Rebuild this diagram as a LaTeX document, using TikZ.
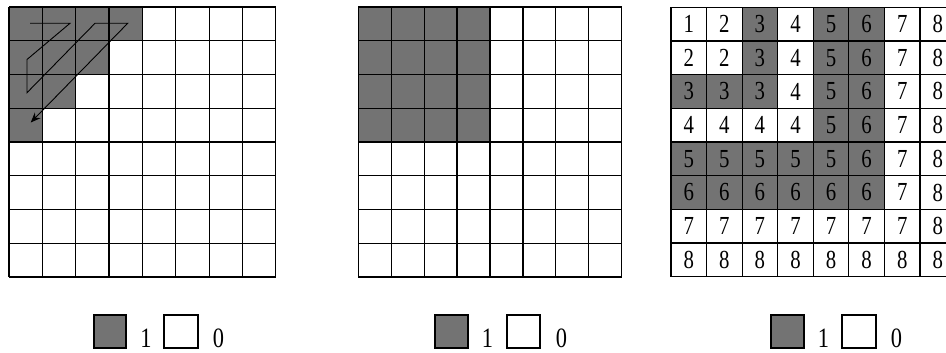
\documentclass[tikz,border=0pt]{standalone}
\usepackage{fontspec}
\setmainfont{Liberation Serif}
\usetikzlibrary{arrows.meta}
\definecolor{cellgray}{RGB}{115,115,115}
\tikzset{
  gridline/.style={line width=1.2pt, draw=black},
  shaded/.style={fill=cellgray},
  num/.style={font=\fontsize{26}{26}\selectfont, text=black, inner sep=0pt, anchor=center},
  legtext/.style={font=\fontsize{28}{28}\selectfont, text=black, inner sep=0pt, anchor=base},
  legbox/.style={draw=black, line width=1.3pt},
  scanpath/.style={line width=0.9pt, -{Stealth[length=10pt,width=8pt]}},
}
\begin{document}
\begin{tikzpicture}[x=1pt,y=-1pt]
\useasboundingbox (0,0) rectangle (946,353);
\clip (0,0) rectangle (946,353);
\fill[white] (0,0) rectangle (946,353);

% ---------- left grid ----------
\def\lx{9}\def\ly{7}\def\lw{33.35}\def\lh{33.75}
\foreach \r/\n in {0/4,1/3,2/2,3/1}
  \fill[shaded] (\lx,\ly+\r*\lh) rectangle (\lx+\n*\lw,\ly+\r*\lh+\lh);
\foreach \i in {0,...,8} {
  \draw[gridline] (\lx+\i*\lw,\ly) -- (\lx+\i*\lw,\ly+8*\lh);
  \draw[gridline] (\lx,\ly+\i*\lh) -- (\lx+8*\lw,\ly+\i*\lh);
}
\coordinate (p0) at (30,23.3);
\coordinate (p1) at (70,23.3);
\coordinate (p2) at (27,59.5);
\coordinate (p3) at (27,92.7);
\coordinate (p4) at (95,23.3);
\coordinate (p5) at (127.7,23.3);
\coordinate (p6) at (30.7,122.5);
\draw[scanpath] (p0) -- (p1) -- (p2) -- (p3) -- (p4) -- (p5) -- (p6);

% ---------- middle grid ----------
\def\mx{358.3}\def\my{7}\def\mw{32.93}\def\mh{33.75}
\fill[shaded] (\mx,\my) rectangle (\mx+4*\mw,\my+4*\mh);
\foreach \i in {0,...,8} {
  \draw[gridline] (\mx+\i*\mw,\my) -- (\mx+\i*\mw,\my+8*\mh);
  \draw[gridline] (\mx,\my+\i*\mh) -- (\mx+8*\mw,\my+\i*\mh);
}

% ---------- right grid ----------
\def\rx{671}\def\ry{7.3}\def\rw{35.57}\def\rh{33.67}
\foreach \r in {0,...,7} {
  \foreach \c in {0,...,7} {
    \pgfmathtruncatemacro{\v}{max(\r,\c)+1}
    \ifnum\v=3 \fill[shaded] (\rx+\c*\rw,\ry+\r*\rh) rectangle +(\rw,\rh); \fi
    \ifnum\v=5 \fill[shaded] (\rx+\c*\rw,\ry+\r*\rh) rectangle +(\rw,\rh); \fi
    \ifnum\v=6 \fill[shaded] (\rx+\c*\rw,\ry+\r*\rh) rectangle +(\rw,\rh); \fi
    \node[num] (n-\r-\c) at (\rx+\c*\rw+0.5*\rw,\ry+\r*\rh+0.5*\rh) {\scalebox{0.8}[1]{\v}};
  }
}
\foreach \i in {0,...,8} {
  \draw[gridline] (\rx+\i*\rw,\ry) -- (\rx+\i*\rw,\ry+8*\rh);
  \draw[gridline] (\rx,\ry+\i*\rh) -- (\rx+8*\rw,\ry+\i*\rh);
}

% ---------- legends ----------
\draw[legbox, fill=cellgray] (94,315) rectangle (126,348);
\node[legtext] (l1a) at (146,347.5) {\scalebox{0.8}[1]{1}};
\draw[legbox, fill=white] (164,315) rectangle (198,348);
\node[legtext] (l1b) at (218.5,347.5) {\scalebox{0.8}[1]{0}};

\draw[legbox, fill=cellgray] (435,315) rectangle (468,348);
\node[legtext] (l2a) at (487.5,347.5) {\scalebox{0.8}[1]{1}};
\draw[legbox, fill=white] (507,315) rectangle (540,348);
\node[legtext] (l2b) at (561.5,347.5) {\scalebox{0.8}[1]{0}};

\draw[legbox, fill=cellgray] (771,315) rectangle (804,348);
\node[legtext] (l3a) at (823.5,347.5) {\scalebox{0.8}[1]{1}};
\draw[legbox, fill=white] (842,315) rectangle (876,348);
\node[legtext] (l3b) at (896.5,347.5) {\scalebox{0.8}[1]{0}};
\end{tikzpicture}
\end{document}
